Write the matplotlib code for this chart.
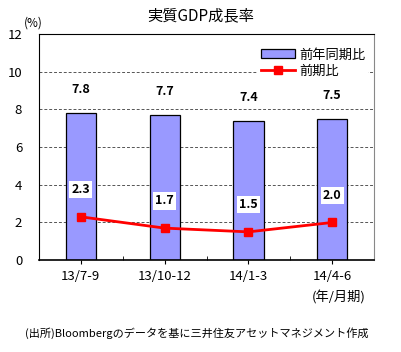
import matplotlib
matplotlib.use("Agg")
import matplotlib.pyplot as plt
from matplotlib.lines import Line2D
from matplotlib.patches import Patch

plt.rcParams['font.family'] = ['Noto Sans CJK JP', 'DejaVu Sans']

categories = ["13/7-9", "13/10-12", "14/1-3", "14/4-6"]
yoy = [7.8, 7.7, 7.4, 7.5]
qoq = [2.3, 1.7, 1.5, 2.0]
yticks = [0, 2, 4, 6, 8, 10, 12]

fig = plt.figure(figsize=(4.01, 3.52), dpi=100)
ax = fig.add_axes([0.097, 0.261, 0.836, 0.642])

x = list(range(len(categories)))
ax.bar(x, yoy, width=0.36, color="#9999ff", edgecolor="black", linewidth=0.9, zorder=2)
ax.plot(x, qoq, color="#ff0000", linewidth=2, marker="s", markersize=6, zorder=3)

ax.set_xlim(-0.5, 3.5)
ax.set_ylim(0, 12)
ax.set_yticks(yticks)
ax.set_yticklabels([str(v) for v in yticks], fontsize=9.5)
ax.set_xticks(x)
ax.set_xticklabels(categories, fontsize=9.5)
ax.set_xticks([0.5, 1.5, 2.5], minor=True)
ax.tick_params(axis='x', which='major', direction='out', length=3, pad=4)
ax.tick_params(axis='x', which='minor', direction='in', length=3)
ax.tick_params(axis='y', length=0, pad=12)
for v in yticks[1:-1]:
    ax.axhline(v, color="#555555", linestyle=(0, (3, 2)), linewidth=0.7, zorder=1)

ax.spines['top'].set_color('black')
ax.spines['right'].set_color('#888888')
ax.spines['left'].set_color('black')
ax.spines['bottom'].set_color('black')
ax.spines['bottom'].set_linewidth(1.2)

bbox = dict(facecolor='white', edgecolor='none', pad=1.5)
for xi, v in zip(x, yoy):
    ax.text(xi, v + 0.9, f"{v:.1f}", ha='center', va='bottom', fontsize=9,
            fontweight='bold', bbox=bbox, zorder=4)
for xi, v in zip(x, qoq):
    ax.text(xi, v + 1.1, f"{v:.1f}", ha='center', va='bottom', fontsize=9,
            fontweight='bold', bbox=bbox, zorder=4)

handles = [Patch(facecolor="#9999ff", edgecolor="black", linewidth=0.9),
           Line2D([0], [0], color="#ff0000", linewidth=2, marker="s", markersize=6)]
leg = ax.legend(handles, ["前年同期比", "前期比"], loc='upper right',
                bbox_to_anchor=(0.99, 0.96), fontsize=9.5, frameon=True,
                handlelength=2.6, handletextpad=0.3, labelspacing=0.25,
                borderpad=0.2, borderaxespad=0.2)
leg.get_frame().set_edgecolor('none')
leg.get_frame().set_facecolor('white')
leg.get_frame().set_alpha(1)
leg.set_zorder(5)

fig.text(0.5, 0.955, "実質GDP成長率", ha='center', va='center', fontsize=11)
fig.text(0.06, 0.935, "(%)", ha='left', va='center', fontsize=8.5)
fig.text(0.778, 0.156, "(年/月期)", ha='left', va='center', fontsize=9.5)
fig.text(0.49, 0.054, "(出所)Bloombergのデータを基に三井住友アセットマネジメント作成",
         ha='center', va='center', fontsize=8)

fig.savefig("out.png", dpi=100)
